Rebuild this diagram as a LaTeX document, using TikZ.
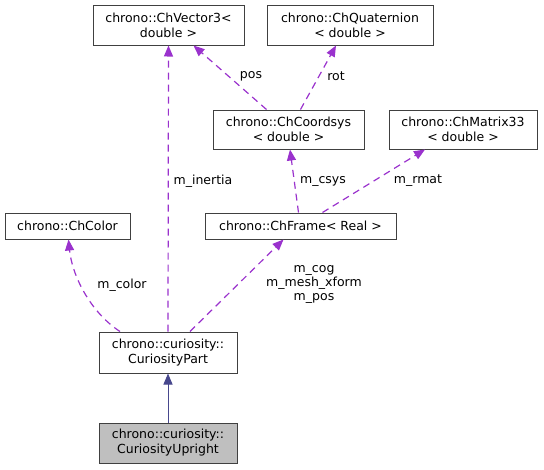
\documentclass[tikz,border=0pt]{standalone}
\usepackage{fontspec}
\setmainfont{DejaVu Sans}
\usepackage{tikz}
\usetikzlibrary{arrows.meta}
\tikzset{>={Triangle[length=11pt,width=9pt]}}
\definecolor{member}{HTML}{9A32CD}
\definecolor{inherit}{HTML}{191970}
\tikzset{
  cls/.style={draw=black!75, line width=1pt, inner sep=0pt, align=center, font=\fontsize{12.5}{15}\selectfont},
  dep/.style={->, member, dashed, dash pattern=on 7pt off 5pt, line width=1.2pt},
  lbl/.style={align=center, inner sep=0pt, font=\fontsize{12.5}{14}\selectfont}
}

\begin{document}
\begin{tikzpicture}[x=1pt, y=-1pt]
                \useasboundingbox (0, 0) rectangle (544, 469);
                \node[cls, minimum width=151, minimum height=40] (vec) at (168.5, 25) {chrono::ChVector3<\\double >};
                \node[cls, minimum width=166, minimum height=40] (quat) at (350, 25) {chrono::ChQuaternion\\< double >};
                \node[cls, minimum width=151, minimum height=39] (csys) at (288.5, 129.5) {chrono::ChCoordsys\\< double >};
                \node[cls, minimum width=148, minimum height=39] (rmat) at (463, 129.5) {chrono::ChMatrix33\\< double >};
                \node[cls, minimum width=191, minimum height=26] (frame) at (300.5, 226) {chrono::ChFrame< Real >};
                \node[cls, minimum width=125, minimum height=26] (color) at (67.5, 226) {chrono::ChColor};
                \node[cls, minimum width=138, minimum height=41] (part) at (168, 352.5) {chrono::curiosity::\\CuriosityPart};
                \node[cls, fill=black!25, minimum width=138, minimum height=40] (upright) at (168, 443) {chrono::curiosity::\\CuriosityUpright};
                \draw[->, inherit!80, line width=1pt] (upright) -- (part);
                \draw[dep] (part.north) -- (vec.south);
                \draw[dep] ([xshift=-48]part.north) .. controls (90, 312) and (72, 275) .. ([xshift=1]color.south);
                \draw[dep] ([xshift=22]part.north) -- ([xshift=-17]frame.south);
                \draw[dep] ([xshift=-2]frame.north) -- ([xshift=1.5]csys.south);
                \draw[dep] ([xshift=22]frame.north) -- ([xshift=-38]rmat.south);
                \draw[dep] ([xshift=-22]csys.north) -- ([xshift=25]vec.south);
                \draw[dep] ([xshift=12]csys.north) -- ([xshift=-14]quat.south);
                \node[lbl] (inertia) at (203, 181) {m\_inertia};
                \node[lbl] (colorlbl) at (122, 285) {m\_color};
                \node[lbl] (frames) at (314, 284) {m\_cog\\m\_mesh\_xform\\m\_pos};
                \node[lbl] (csyslbl) at (323, 181) {m\_csys};
                \node[lbl] (rmatlbl) at (418, 181) {m\_rmat};
                \node[lbl] (poslbl) at (251, 76) {pos};
                \node[lbl] (rotlbl) at (336, 76) {rot};
            \end{tikzpicture}
\end{document}
